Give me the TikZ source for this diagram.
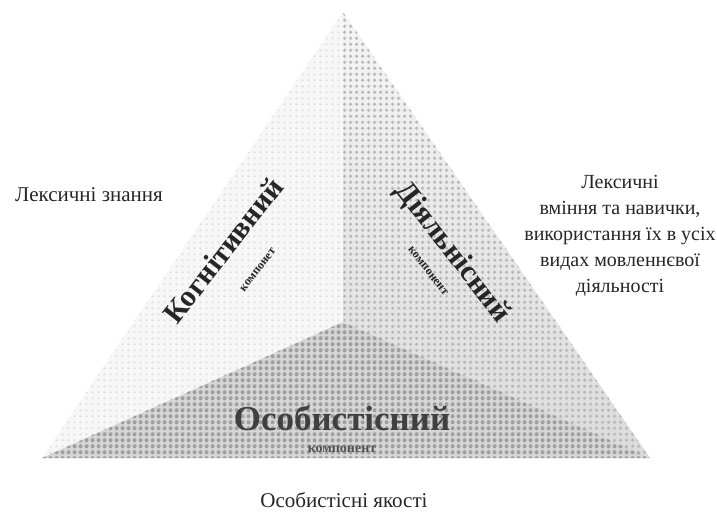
\documentclass[tikz,border=0pt]{standalone}
\usepackage{fontspec}
\setmainfont{Liberation Serif}
\usetikzlibrary{patterns.meta}
\tikzdeclarepattern{
  name=dotsS, type=uncolored,
  bounding box={(0pt,0pt) and (6pt,6.2pt)},
  tile size={(6pt,6.2pt)},
  code={\fill (3pt,3.1pt) circle (1.6pt);}
}
\tikzdeclarepattern{
  name=dotsM, type=uncolored,
  bounding box={(0pt,0pt) and (6pt,6.2pt)},
  tile size={(6pt,6.2pt)},
  code={\fill (3pt,3.1pt) circle (2pt);}
}
\tikzdeclarepattern{
  name=dotsL, type=uncolored,
  bounding box={(0pt,0pt) and (6pt,6.2pt)},
  tile size={(6pt,6.2pt)},
  code={\fill (3pt,3.1pt) circle (2.3pt);}
}
\tikzset{
  label/.style={text=black!85, inner sep=1pt},
  outer/.style={label, font=\fontsize{21}{26}\selectfont},
  big/.style={label, font=\bfseries\fontsize{30}{30}\selectfont},
  small/.style={label, font=\bfseries\fontsize{12}{12}\selectfont},
}
\begin{document}
\begin{tikzpicture}[x=1pt,y=-1pt]
\useasboundingbox[fill=white] (0,0) rectangle (717,516);
\coordinate (A) at (343,12);
\coordinate (L) at (42,458);
\coordinate (R) at (650,458);
\coordinate (C) at (343,322);
% left region
\fill[gray!6] (A) -- (C) -- (L) -- cycle;
\fill[pattern=dotsS, pattern color=gray!22] (A) -- (C) -- (L) -- cycle;
% right region
\shade[top color=gray!8, bottom color=gray!28] (A) -- (R) -- (C) -- cycle;
\fill[pattern=dotsM, pattern color=gray!55] (A) -- (R) -- (C) -- cycle;
% bottom region
\fill[gray!32] (L) -- (C) -- (R) -- cycle;
\fill[pattern=dotsL, pattern color=gray!75] (L) -- (C) -- (R) -- cycle;
% texts
\node[outer] (lz) at (89,195) {Лексичні знання};
\node[outer, font=\fontsize{20}{26}\selectfont, align=center] (lv) at (620,236) {Лексичні\\вміння та навички,\\використання їх в усіх\\видах мовленнєвої\\діяльності};
\node[outer] (oy) at (344,500) {Особистісні якості};
\node[big, rotate=52] (kog) at (223,250) {Когнітивний};
\node[small, rotate=52] (kogk) at (258,270) {компонет};
\node[big, rotate=-52] (dia) at (452,253) {Діяльнісний};
\node[small, rotate=-52] (diak) at (428,271) {компонент};
\node[big, text=black!75, font=\bfseries\fontsize{35}{35}\selectfont] (osob) at (342,418) {Особистісний};
\node[small, text=black!68, font=\bfseries\fontsize{14}{14}\selectfont] (osobk) at (342,449) {компонент};
\end{tikzpicture}
\end{document}
